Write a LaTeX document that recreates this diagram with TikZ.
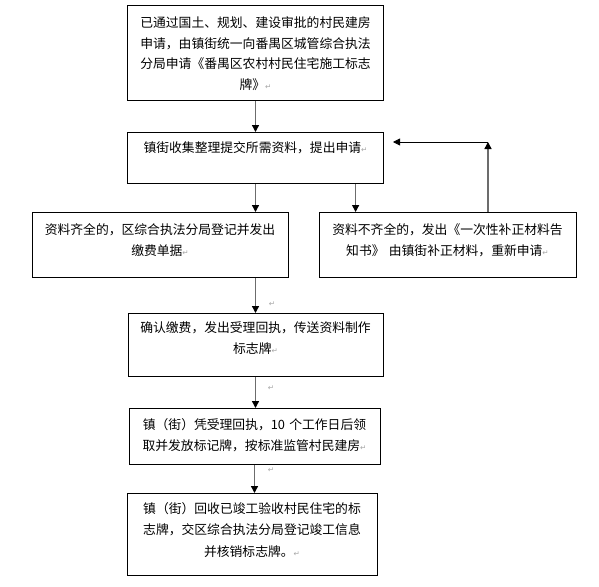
\documentclass[tikz,border=0pt]{standalone}
\usepackage{fontspec}
\setmainfont{Noto Sans CJK SC}
\newfontfamily\markfont{DejaVu Sans}
\usepackage{xcolor}
\usepackage{tikz}
\usetikzlibrary{positioning,arrows.meta}

\newcommand{\pmark}{{\markfont\color{gray!70}\fontsize{7.5}{8}\selectfont ↵}}

\begin{document}
\begin{tikzpicture}[x=1pt, y=-1pt,
  box/.style={rectangle, draw, line width=0.8pt, anchor=north, inner xsep=4pt, inner ysep=6pt,
              text width=248pt, align=center, font=\fontsize{12.8}{21.5}\selectfont},
  arr/.style={draw=gray!85!black, line width=1.4pt, -{Triangle[width=7pt,length=7pt,color=black]}},
  back/.style={draw=black, line width=0.8pt, -{Triangle[width=7pt,length=7pt]}},
  pm/.style={inner sep=0pt}
]
\useasboundingbox (0,0) rectangle (599,586);

\node[box, minimum height=95pt, text depth=62pt, font=\fontsize{12.8}{20.7}\selectfont] (b1) at (255.5,5)
  {已通过国土、规划、建设审批的村民建房\\申请，由镇街统一向番禺区城管综合执法\\分局申请《番禺区农村村民住宅施工标志\\牌》\pmark};
\node[box, minimum height=51pt, text depth=22.5pt] (b2) at (255.5,132)
  {镇街收集整理提交所需资料，提出申请\pmark};
\node[box, minimum height=65pt, text depth=32.5pt] (b3) at (160,212)
  {资料齐全的，区综合执法分局登记并发出\\缴费单据\pmark};
\node[box, minimum height=65pt, text depth=32.5pt, text width=249pt] (b4) at (447.5,212)
  {资料不齐全的，发出《一次性补正材料告\\知书》 由镇街补正材料，重新申请\pmark};
\node[box, minimum height=63pt, text depth=36.5pt, text width=247pt] (b5) at (255.5,313)
  {确认缴费，发出受理回执，传送资料制作\\标志牌\pmark};
\node[box, minimum height=56pt, text depth=25.5pt, text width=243pt] (b6) at (254.5,408)
  {镇（街）凭受理回执，10 个工作日后领\\取并发放标记牌，按标准监管村民建房\pmark};
\node[box, minimum height=82pt, text depth=53.5pt, text width=242pt] (b7) at (252,493)
  {镇（街）回收已竣工验收村民住宅的标\\志牌，交区综合执法分局登记竣工信息\\并核销标志牌。\pmark};

% empty paragraph marks beside the arrows
\node[pm] (m1) at (272,304) {\pmark};
\node[pm] (m2) at (271,388) {\pmark};
\node[pm] (m3) at (271,470) {\pmark};

\coordinate (s4) at ([xshift=37pt]b4.north west);
\coordinate (turn) at (488,142);
\coordinate (fbend) at (393,142);

\draw[arr] (b1.south) -- (b2.north);
\draw[arr] (b2.south) -- (b2.south |- b3.north);
\draw[arr] (b2.south -| s4) -- (s4);
\draw[arr] (b3.south -| b5.north) -- (b5.north);
\draw[arr] (b5.south) -- (b5.south |- b6.north);
\draw[arr] (b6.south) -- (b6.south |- b7.north);
\draw[arr] (b4.north -| turn) -- (turn);
\draw[back] (turn) -- (fbend);

\end{tikzpicture}
\end{document}
